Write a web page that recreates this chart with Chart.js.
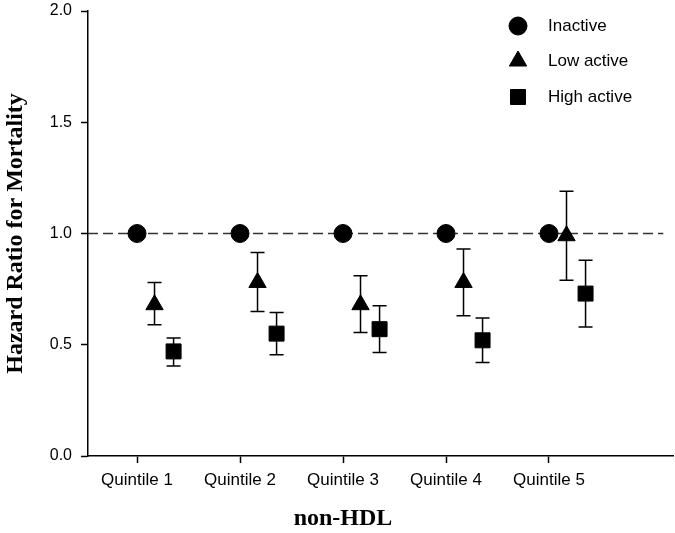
<!DOCTYPE html>
<html>
<head>
<meta charset="utf-8">
<script src="https://cdn.jsdelivr.net/npm/chart.js@4/dist/chart.umd.min.js"></script>
<style>
  html, body { margin: 0; padding: 0; background: #fff; }
  #wrap { width: 675px; height: 533px; }
</style>
</head>
<body>
<div id="wrap"><canvas id="c" width="675" height="533"></canvas></div>
<script>
// ---- data ----
const categories = ['Quintile 1', 'Quintile 2', 'Quintile 3', 'Quintile 4', 'Quintile 5'];
const seriesNames = ['Inactive', 'Low active', 'High active'];
const inactiveHR = [1.0, 1.0, 1.0, 1.0, 1.0];
const lowHR      = [0.68, 0.78, 0.68, 0.78, 0.99];
const lowLower   = [0.59, 0.65, 0.555, 0.63, 0.79];
const lowUpper   = [0.78, 0.915, 0.81, 0.93, 1.19];
const highHR     = [0.47, 0.55, 0.57, 0.52, 0.73];
const highLower  = [0.405, 0.455, 0.465, 0.42, 0.58];
const highUpper  = [0.53, 0.645, 0.675, 0.62, 0.88];
const yTicks     = [0.0, 0.5, 1.0, 1.5, 2.0];
const referenceHR = 1.0;
const xTitle = 'non-HDL';
const yTitle = 'Hazard Ratio for Mortality';

// ---- layout helpers (positions / styles) ----
const X_MIN = 0.524, X_MAX = 6.204, REF_END = 6.11;
const offsets = [0, 0.17, 0.355];
const styles = [
  { pointStyle: 'circle',   radius: 9 },
  { pointStyle: 'triangle', radius: 10 },
  { pointStyle: 'rect',     radius: 10.6 }
];
const sans = "'Liberation Sans', Arial, sans-serif";
const serif = "'Liberation Serif', 'Times New Roman', serif";

function pts(vals, off) { return vals.map((v, i) => ({ x: i + 1 + off, y: v })); }

const errSets = [null, { lo: lowLower, hi: lowUpper }, { lo: highLower, hi: highUpper }];

const errorBarPlugin = {
  id: 'errorBars',
  beforeDatasetsDraw(chart) {
    const { ctx, scales: { x, y } } = chart;
    ctx.save();
    ctx.strokeStyle = '#000';
    ctx.lineWidth = 1.5;
    errSets.forEach((e, s) => {
      if (!e) return;
      e.lo.forEach((lo, i) => {
        const px = x.getPixelForValue(i + 1 + offsets[s]);
        const pLo = y.getPixelForValue(lo);
        const pHi = y.getPixelForValue(e.hi[i]);
        ctx.beginPath();
        ctx.moveTo(px, pLo); ctx.lineTo(px, pHi);
        ctx.moveTo(px - 7, pLo); ctx.lineTo(px + 7, pLo);
        ctx.moveTo(px - 7, pHi); ctx.lineTo(px + 7, pHi);
        ctx.stroke();
      });
    });
    ctx.restore();
  }
};

const legendPlugin = {
  id: 'customLegend',
  afterDraw(chart) {
    const { ctx, scales: { x } } = chart;
    const rows = [26, 61, 97];
    ctx.save();
    seriesNames.forEach((name, i) => {
      ctx.fillStyle = '#000';
      ctx.strokeStyle = '#000';
      ctx.lineWidth = 1;
      Chart.helpers.drawPoint(ctx, { pointStyle: styles[i].pointStyle, radius: styles[i].radius, rotation: 0, borderWidth: 1 }, 518, rows[i]);
      ctx.fillStyle = '#000';
      ctx.font = '17px ' + sans;
      ctx.textBaseline = 'middle';
      ctx.textAlign = 'left';
      ctx.fillText(name, 548, rows[i]);
    });
    // x-axis title centred under the middle category
    ctx.font = 'bold 24px ' + serif;
    ctx.textAlign = 'center';
    ctx.textBaseline = 'middle';
    ctx.fillText(xTitle, x.getPixelForValue(3), 519);
    ctx.restore();
  }
};

const seriesData = [inactiveHR, lowHR, highHR];
const datasets = seriesData.map((vals, s) => ({
  label: seriesNames[s],
  data: pts(vals, offsets[s]),
  pointStyle: styles[s].pointStyle,
  pointRadius: styles[s].radius,
  pointHoverRadius: styles[s].radius,
  backgroundColor: '#000',
  borderColor: '#000',
  borderWidth: 1,
  showLine: false,
  order: 3 - s
}));
datasets.push({
  type: 'line',
  label: 'ref',
  data: [{ x: X_MIN, y: referenceHR }, { x: REF_END, y: referenceHR }],
  borderColor: '#333',
  borderWidth: 1.5,
  borderDash: [10, 5],
  pointRadius: 0,
  fill: false,
  order: 10
});

new Chart(document.getElementById('c'), {
  type: 'scatter',
  data: { datasets },
  plugins: [errorBarPlugin, legendPlugin],
  options: {
    responsive: false,
    animation: false,
    devicePixelRatio: 1,
    layout: { autoPadding: false, padding: { top: 11, right: 2, left: 0, bottom: 0 } },
    plugins: { legend: { display: false }, tooltip: { enabled: false } },
    scales: {
      x: {
        type: 'linear',
        min: X_MIN, max: X_MAX,
        afterBuildTicks(scale) { scale.ticks = categories.map((c, i) => ({ value: i + 1 })); },
        afterFit(scale) { scale.height = 77; scale.paddingLeft = 0; scale.paddingRight = 0; },
        ticks: {
          callback: (v) => categories[Math.round(v) - 1] || '',
          color: '#000',
          font: { family: sans, size: 17 },
          padding: 7,
          maxRotation: 0, autoSkip: false
        },
        grid: { drawOnChartArea: false, drawTicks: true, tickLength: 7, tickColor: '#000', tickWidth: 1.5 },
        border: { display: true, color: '#000', width: 1.5 },
        title: { display: false }
      },
      y: {
        min: 0, max: 2,
        afterBuildTicks(scale) { scale.ticks = yTicks.map(v => ({ value: v })); },
        afterFit(scale) { scale.width = 88; scale.paddingTop = 0; scale.paddingBottom = 0; },
        ticks: {
          callback: (v) => Number(v).toFixed(1),
          color: '#000',
          font: { family: sans, size: 16 },
          padding: 9
        },
        grid: { drawOnChartArea: false, drawTicks: true, tickLength: 7, tickColor: '#000', tickWidth: 1.5 },
        border: { display: true, color: '#000', width: 1.5 },
        title: {
          display: true, text: yTitle, color: '#000',
          font: { family: serif, size: 24, weight: 'bold' },
          padding: { top: 1, bottom: 0 }
        }
      }
    }
  }
});
</script>
</body>
</html>
